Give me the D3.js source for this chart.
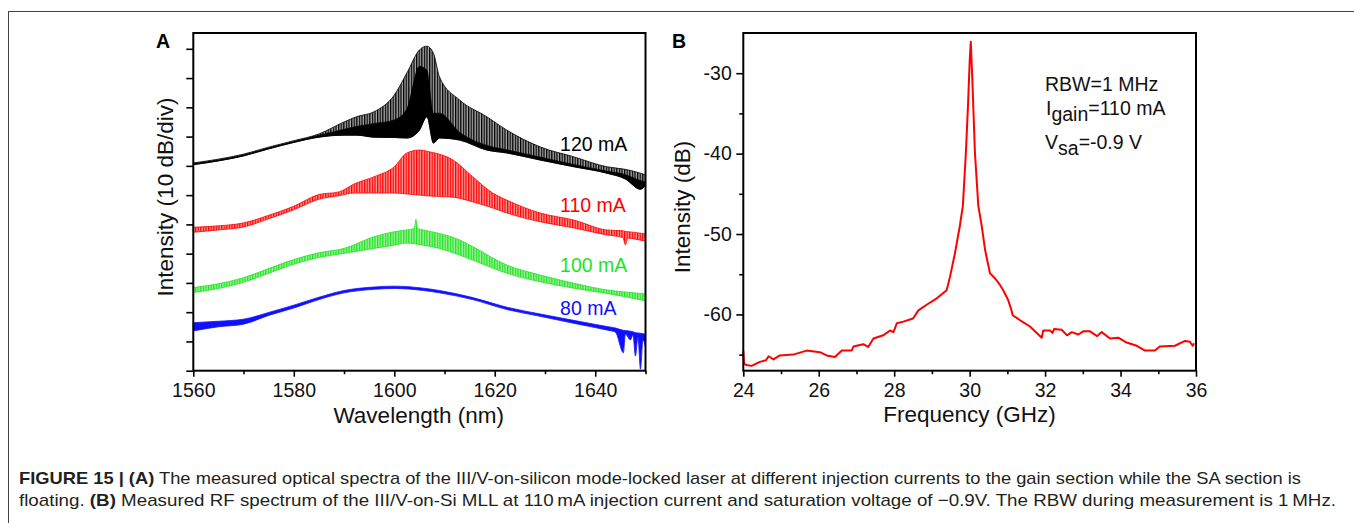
<!DOCTYPE html>
<html>
<head>
<meta charset="utf-8">
<script src="https://cdn.jsdelivr.net/npm/d3@7"></script>
<style>
  body { margin: 0; background: #fff; }
  svg { display: block; }
  text { font-family: "Liberation Sans", Arial, sans-serif; }
</style>
</head>
<body>
<div id="chart"></div>
<script>
// ---- Panel A: optical spectra, intensity in dB (10 dB/div, offset traces) ----
// each trace: wavelength samples, upper edge of the mode comb, lower edge
const wl120   = [1560, 1565, 1570, 1575, 1580, 1585, 1590, 1592.5, 1596, 1600, 1602.5, 1605, 1606.5, 1607.8, 1609, 1613, 1618.4, 1622.4, 1629, 1635.7, 1642.3, 1646, 1649, 1650];
const top120  = [71.0, 72.3, 74.0, 76.4, 78.6, 80.9, 85.0, 86.8, 88.5, 94.2, 101.7, 109.6, 110.9, 108.5, 100.4, 92.5, 86.8, 82.2, 76.5, 73.1, 69.7, 68.8, 67.5, 66.9];
const core120 = [70.7, 72.0, 73.7, 76.1, 78.3, 80.5, 82.5, 83.5, 84.5, 85.7, 89.5, 104.0, 102.7, 88.0, 88.0, 81.5, 77.0, 75.5, 73.0, 70.5, 68.2, 67.0, 65.0, 64.5];
const base120 = [70.4, 71.7, 73.4, 75.8, 78.0, 79.8, 80.5, 80.5, 79.8, 79.7, 79.5, 82.2, 86.8, 77.8, 79.5, 78.8, 75.4, 74.4, 72.0, 69.7, 67.5, 65.5, 62.0, 63.4];

const wl110   = [1560, 1565, 1570, 1575, 1580, 1585, 1589, 1592, 1596, 1600, 1602.5, 1605, 1607, 1611.7, 1615.6, 1619.6, 1622.4, 1629, 1635.7, 1642.3, 1645.5, 1646, 1646.5, 1649, 1650];
const top110  = [49.0, 49.5, 50.5, 53.1, 56.2, 60.2, 61.1, 63.8, 66.3, 69.7, 74.4, 75.4, 74.8, 72.0, 66.3, 60.7, 58.3, 53.9, 51.5, 48.1, 47.8, 47.6, 47.5, 47.0, 46.7];
const base110 = [47.3, 48.1, 49.1, 51.9, 55.0, 58.6, 59.8, 60.7, 60.7, 60.7, 60.4, 60.0, 59.7, 59.3, 57.7, 55.6, 53.9, 50.9, 48.8, 46.4, 45.5, 43.0, 45.3, 44.6, 44.3];

const wl100   = [1560, 1565, 1570, 1575, 1580, 1585, 1590, 1596, 1600, 1602.5, 1604, 1604.3, 1604.6, 1605.8, 1609, 1613, 1615.6, 1622.4, 1629, 1635.7, 1642.3, 1649, 1650];
const top100  = [28.4, 29.7, 31.8, 34.9, 38.0, 40.3, 41.8, 45.8, 47.5, 48.1, 48.6, 51.7, 48.6, 48.1, 46.9, 44.7, 42.4, 36.1, 32.7, 29.9, 27.6, 26.4, 26.2];
const base100 = [26.7, 28.1, 30.2, 33.3, 36.4, 38.7, 40.1, 41.8, 42.9, 43.6, 43.4, 43.3, 43.2, 42.9, 41.8, 39.5, 37.8, 33.3, 30.4, 28.2, 26.4, 24.2, 23.8];

const wl80    = [1560, 1565, 1570, 1575, 1580, 1585, 1590, 1596, 1600, 1605.8, 1609, 1615.6, 1622.4, 1629, 1635.7, 1642.3, 1644, 1645.6, 1646, 1647, 1647.5, 1648, 1648.5, 1649, 1649.5, 1650];
const top80   = [16.4, 16.9, 17.6, 19.9, 22.4, 25.1, 27.4, 28.6, 28.9, 28.2, 27.4, 25.0, 21.7, 19.4, 17.2, 15.1, 14.6, 13.8, 13.7, 13.5, 13.3, 13.0, 12.9, 12.8, 12.6, 12.5];
const base80  = [13.6, 15.0, 15.9, 18.9, 21.4, 24.3, 26.6, 27.8, 28.1, 27.4, 26.6, 24.3, 20.9, 18.6, 16.2, 13.9, 13.2, 6.1, 12.5, 10.5, 12.2, 5.0, 11.5, 0.5, 10.5, 8.0];

const currentLabels = ["120 mA", "110 mA", "100 mA", "80 mA"];
const wlTicks = [1560, 1580, 1600, 1620, 1640];
const wlMinor = [1570, 1590, 1610, 1630, 1650];
const intTicks = [0, 10, 20, 30, 40, 50, 60, 70, 80, 90, 100, 110];

// ---- Panel B: RF spectrum ----
const freqB  = [24.0, 24.02, 24.08, 24.22, 24.44, 24.6, 24.67, 24.8, 24.97, 25.32, 25.68, 26.03, 26.21, 26.43, 26.61, 26.87, 26.92, 27.18, 27.31, 27.45, 27.71, 27.89, 27.98, 28.07, 28.24, 28.5, 28.64, 28.86, 29.13, 29.39, 29.48, 29.61, 29.74, 29.82, 29.9, 29.96, 30.0, 30.03, 30.07, 30.14, 30.23, 30.32, 30.41, 30.54, 30.67, 30.8, 30.89, 31.02, 31.11, 31.14, 31.33, 31.6, 31.78, 31.91, 31.95, 32.13, 32.2, 32.24, 32.44, 32.58, 32.71, 32.88, 33.01, 33.19, 33.38, 33.5, 33.72, 33.94, 34.16, 34.43, 34.65, 34.91, 35.04, 35.44, 35.71, 35.84, 35.91, 35.95];
const powerB = [-64.5, -66.1, -66.3, -66.4, -65.9, -65.7, -65.2, -65.6, -65.1, -65.0, -64.5, -64.7, -65.1, -65.3, -64.5, -64.5, -64.0, -63.7, -64.05, -63.0, -62.6, -62.0, -62.2, -61.1, -60.9, -60.5, -59.5, -58.8, -58.0, -57.0, -55.3, -52.4, -49.0, -46.5, -39.9, -33.6, -28.6, -26.1, -30.7, -39.9, -46.5, -49.0, -52.0, -54.9, -55.5, -56.3, -57.0, -58.2, -59.5, -60.1, -60.7, -61.5, -62.3, -62.9, -62.0, -62.0, -62.3, -61.8, -61.9, -62.6, -62.2, -62.5, -62.1, -62.1, -62.7, -62.2, -63.0, -62.9, -63.5, -63.9, -64.5, -64.5, -64.0, -63.9, -63.3, -63.4, -63.9, -63.6];
const freqTicks = [24, 26, 28, 30, 32, 34, 36];
const freqMinor = [25, 27, 29, 31, 33, 35];
const dbTicks = [-30, -40, -50, -60];
const dbMinor = [-35, -45, -55, -65];

const width = 1354, height = 523;
const svg = d3.select("#chart").append("svg")
    .attr("width", width)
    .attr("height", height);

// outer figure frame (continues past the right and bottom edges)
svg.append("rect")
    .attr("x", 8.5).attr("y", 11.5)
    .attr("width", 2000).attr("height", 1000)
    .attr("fill", "none").attr("stroke", "#444").attr("stroke-width", 1);

// scales
const xA = d3.scaleLinear().domain([1560, 1650]).range([193.3, 645.5]);
const yA = d3.scaleLinear().domain([0, 115.4]).range([370.7, 33]);
const xB = d3.scaleLinear().domain([24, 36]).range([743.3, 1196]);
const yB = d3.scaleLinear().domain([-67, -25]).range([370.7, 33]);

const tickFont = "19.5px";

function styleAxis(g) {
    g.select(".domain").remove();
    g.selectAll(".tick line").attr("stroke", "#000").attr("stroke-width", 1.6);
    g.selectAll(".tick text").attr("fill", "#111").style("font-size", tickFont);
}

// ---------------- Panel A ----------------
const gA = svg.append("g");
const defs = svg.append("defs");

const traces = [
    {wl: wl120, top: top120, base: base120, color: "#000000", tint: "#a8a8a8"},
    {wl: wl110, top: top110, base: base110, color: "#ff0000", tint: "#ff9c9c"},
    {wl: wl100, top: top100, base: base100, color: "#1ee41e", tint: "#a6f3a6"},
    {wl: wl80,  top: top80,  base: base80,  color: "#1010ff", tint: "#1010ff"}
];
const labelDb = [75.2, 54.3, 33.8, 19.0];

// vertical hatch to mimic the dense longitudinal-mode comb
traces.forEach((t, i) => {
    const p = defs.append("pattern")
        .attr("id", "comb" + i)
        .attr("patternUnits", "userSpaceOnUse")
        .attr("width", 2.6).attr("height", 8);
    p.append("rect").attr("width", 2.6).attr("height", 8).attr("fill", t.tint);
    p.append("rect").attr("width", 1.3).attr("height", 8).attr("fill", t.color);
});

const area = d3.area()
    .curve(d3.curveMonotoneX)
    .x(d => xA(d.wl))
    .y0(d => yA(d.base))
    .y1(d => yA(d.top));

traces.forEach((t, i) => {
    const pts = t.wl.map((w, j) => ({wl: w, top: t.top[j], base: t.base[j]}));
    gA.append("path")
        .datum(pts)
        .attr("d", area)
        .attr("fill", "url(#comb" + i + ")")
        .attr("stroke", t.color)
        .attr("stroke-width", 0.8)
        .attr("stroke-linejoin", "round");
    if (i === 0) {
        // dense dark core of the 120 mA comb
        const corePts = t.wl.map((w, j) => ({wl: w, top: core120[j], base: t.base[j]}));
        gA.append("path")
            .datum(corePts)
            .attr("d", area)
            .attr("fill", "#000")
            .attr("stroke", "#000")
            .attr("stroke-width", 0.6);
    }
    gA.append("text")
        .attr("x", xA(1633))
        .attr("y", yA(labelDb[i]))
        .attr("fill", t.color)
        .style("font-size", "19.5px")
        .text(currentLabels[i]);
});

gA.append("g")
    .attr("transform", "translate(0,370.7)")
    .call(d3.axisBottom(xA).tickValues(wlTicks).tickSize(6).tickPadding(6.5).tickFormat(d3.format("d")))
    .call(styleAxis);
gA.append("g")
    .attr("transform", "translate(0,370.7)")
    .call(d3.axisBottom(xA).tickValues(wlMinor).tickSize(3.5).tickFormat(""))
    .call(styleAxis);
gA.append("g")
    .attr("transform", "translate(193.3,0)")
    .call(d3.axisLeft(yA).tickValues(intTicks).tickSize(7).tickFormat(""))
    .call(styleAxis);

gA.append("rect")
    .attr("x", 193.3).attr("y", 33)
    .attr("width", 645.5 - 193.3).attr("height", 370.7 - 33)
    .attr("fill", "none").attr("stroke", "#000").attr("stroke-width", 2);

gA.append("text")
    .attr("x", 418.7).attr("y", 423)
    .attr("text-anchor", "middle")
    .style("font-size", "22.5px")
    .attr("fill", "#111")
    .text("Wavelength (nm)");
gA.append("text")
    .attr("transform", "translate(173,197) rotate(-90)")
    .attr("text-anchor", "middle")
    .style("font-size", "22.5px")
    .attr("fill", "#111")
    .text("Intensity (10 dB/div)");
gA.append("text")
    .attr("x", 156).attr("y", 47.5)
    .style("font-size", "19.5px").style("font-weight", "bold")
    .text("A");

// ---------------- Panel B ----------------
const gB = svg.append("g");

const line = d3.line()
    .x((d, i) => xB(freqB[i]))
    .y(d => yB(d));

gB.append("path")
    .datum(powerB)
    .attr("d", line)
    .attr("fill", "none")
    .attr("stroke", "#ff0000")
    .attr("stroke-width", 2)
    .attr("stroke-linejoin", "round");

gB.append("g")
    .attr("transform", "translate(0,370.7)")
    .call(d3.axisBottom(xB).tickValues(freqTicks).tickSize(6).tickPadding(6.5))
    .call(styleAxis);
gB.append("g")
    .attr("transform", "translate(0,370.7)")
    .call(d3.axisBottom(xB).tickValues(freqMinor).tickSize(3.5).tickFormat(""))
    .call(styleAxis);
gB.append("g")
    .attr("transform", "translate(743.3,0)")
    .call(d3.axisLeft(yB).tickValues(dbTicks).tickSize(7).tickPadding(4.5)
        .tickFormat(d => (d < 0 ? "-" : "") + Math.abs(d)))
    .call(styleAxis);
gB.append("g")
    .attr("transform", "translate(743.3,0)")
    .call(d3.axisLeft(yB).tickValues(dbMinor).tickSize(4).tickFormat(""))
    .call(styleAxis);

gB.append("rect")
    .attr("x", 743.3).attr("y", 33)
    .attr("width", 1196 - 743.3).attr("height", 370.7 - 33)
    .attr("fill", "none").attr("stroke", "#000").attr("stroke-width", 2);

gB.append("text")
    .attr("x", 969.5).attr("y", 422)
    .attr("text-anchor", "middle")
    .style("font-size", "22.5px")
    .attr("fill", "#111")
    .text("Frequency (GHz)");
gB.append("text")
    .attr("transform", "translate(690,207) rotate(-90)")
    .attr("text-anchor", "middle")
    .style("font-size", "22.5px")
    .attr("fill", "#111")
    .text("Intensity (dB)");
gB.append("text")
    .attr("x", 672).attr("y", 47.5)
    .style("font-size", "19.5px").style("font-weight", "bold")
    .text("B");

// annotations
const note = gB.append("g").attr("fill", "#111").style("font-size", "19.5px");
note.append("text").attr("x", 1045).attr("y", 90.7).text("RBW=1 MHz");
const n2 = note.append("text").attr("x", 1046).attr("y", 115);
n2.append("tspan").text("I");
n2.append("tspan").attr("dy", 6).text("gain");
n2.append("tspan").attr("dy", -6).text("=110 mA");
const n3 = note.append("text").attr("x", 1045).attr("y", 149.3);
n3.append("tspan").text("V");
n3.append("tspan").attr("dy", 6).text("sa");
n3.append("tspan").attr("dy", -6).text("=-0.9 V");

// ---------------- Caption ----------------
const cap = svg.append("g")
    .attr("fill", "#231f20")
    .style("font-size", "17px")
    .style("font-family", "'Liberation Sans Narrow', 'DejaVu Sans Condensed', 'Roboto', sans-serif");

const c1 = cap.append("text").attr("x", 19).attr("y", 484)
    .attr("textLength", 1282).attr("lengthAdjust", "spacingAndGlyphs");
c1.append("tspan").style("font-weight", "bold").text("FIGURE 15 | (A)");
c1.append("tspan").text(" The measured optical spectra of the III/V-on-silicon mode-locked laser at different injection currents to the gain section while the SA section is");

const c2 = cap.append("text").attr("x", 19).attr("y", 506)
    .attr("textLength", 1317).attr("lengthAdjust", "spacingAndGlyphs");
c2.append("tspan").text("floating. ");
c2.append("tspan").style("font-weight", "bold").text("(B)");
c2.append("tspan").text(" Measured RF spectrum of the III/V-on-Si MLL at 110\u2009mA injection current and saturation voltage of \u22120.9V. The RBW during measurement is 1\u2009MHz.");
</script>
</body>
</html>
